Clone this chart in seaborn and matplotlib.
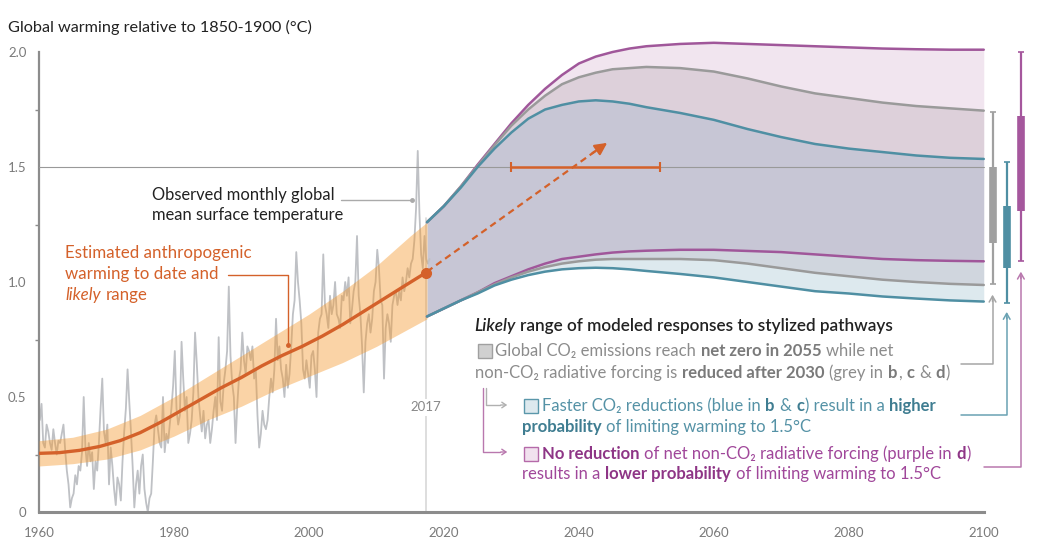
import numpy as np
import pandas as pd
import matplotlib
matplotlib.use("Agg")
import matplotlib.pyplot as plt
import seaborn as sns
from matplotlib.patches import Rectangle, FancyArrowPatch

# ---------------- data ----------------
obs_start = 1960
obs_quarterly = [
    0.40, 0.47, 0.30, 0.28, 0.38, 0.35, 0.30, 0.27, 0.36, 0.30, 0.25, 0.31,
    0.30, 0.34, 0.38, 0.27, 0.18, 0.12, 0.02, 0.06, 0.08, 0.16, 0.12, 0.20,
    0.18, 0.26, 0.50, 0.28, 0.20, 0.30, 0.22, 0.26, 0.10, 0.22, 0.18, 0.30,
    0.45, 0.58, 0.35, 0.30, 0.38, 0.12, 0.28, 0.20, 0.10, 0.03, 0.15, 0.12,
    0.05, 0.22, 0.35, 0.45, 0.62, 0.48, 0.35, 0.20, 0.02, 0.12, 0.18, 0.08,
    0.20, 0.25, 0.10, 0.04, 0.00, 0.06, 0.08, 0.22, 0.38, 0.42, 0.36, 0.30,
    0.28, 0.50, 0.26, 0.34, 0.30, 0.38, 0.45, 0.55, 0.70, 0.45, 0.38, 0.42,
    0.74, 0.58, 0.44, 0.50, 0.30, 0.34, 0.40, 0.52, 0.78, 0.65, 0.50, 0.42,
    0.35, 0.44, 0.32, 0.38, 0.40, 0.30, 0.36, 0.44, 0.50, 0.40, 0.76, 0.48,
    0.44, 0.56, 0.62, 0.70, 0.98, 0.68, 0.56, 0.50, 0.30, 0.46, 0.58, 0.62,
    0.78, 0.66, 0.60, 0.72, 0.70, 0.66, 0.72, 0.58, 0.62, 0.42, 0.28, 0.34,
    0.44, 0.38, 0.36, 0.40, 0.50, 0.58, 0.52, 0.62, 0.84, 0.66, 0.72, 0.62,
    0.58, 0.50, 0.64, 0.54, 0.60, 0.72, 0.86, 0.92, 1.13, 1.00, 0.92, 0.82,
    0.62, 0.58, 0.66, 0.60, 0.54, 0.68, 0.70, 0.62, 0.50, 0.78, 0.84, 0.86,
    1.12, 0.90, 0.86, 0.80, 0.94, 0.86, 0.90, 1.00, 0.86, 0.84, 0.80, 0.94,
    0.92, 1.00, 0.94, 1.02, 0.82, 0.88, 0.96, 1.00, 1.20, 0.94, 0.86, 0.72,
    0.52, 0.74, 0.82, 0.86, 0.78, 0.84, 0.96, 1.00, 1.14, 1.06, 0.92, 0.90,
    0.58, 0.80, 0.86, 0.82, 0.74, 0.90, 0.94, 0.96, 0.90, 0.96, 0.92, 1.02,
    0.96, 1.00, 1.06, 1.02, 1.08, 1.10, 1.18, 1.32, 1.57, 1.30, 1.12, 1.06,
    1.20, 1.10, 1.08, 1.10,
]

anth_years = [1960, 1963, 1966, 1969, 1972, 1975, 1978, 1981, 1984, 1987, 1990,
              1993, 1996, 1999, 2002, 2005, 2008, 2011, 2014, 2017.3]
anth_warming = [0.255, 0.258, 0.268, 0.285, 0.31, 0.345, 0.39, 0.44, 0.49, 0.54, 0.585,
                0.635, 0.68, 0.72, 0.765, 0.815, 0.87, 0.925, 0.98, 1.04]
band_years = [1960, 1965, 1970, 1975, 1980, 1985, 1990, 1995, 2000, 2005, 2010, 2015, 2017.5]
band_low = [0.20, 0.21, 0.23, 0.27, 0.33, 0.40, 0.46, 0.53, 0.59, 0.65, 0.72, 0.80, 0.84]
band_high = [0.31, 0.325, 0.36, 0.42, 0.50, 0.59, 0.68, 0.77, 0.86, 0.96, 1.07, 1.20, 1.26]

scen_years = [2017.5, 2020, 2022.5, 2025, 2027.5, 2030, 2032.5, 2035, 2037.5, 2040,
              2042.5, 2045, 2047.5, 2050, 2055, 2060, 2065, 2070, 2075, 2080,
              2085, 2090, 2095, 2100]
blue_high = [1.26, 1.33, 1.41, 1.50, 1.58, 1.65, 1.71, 1.75, 1.77, 1.785,
             1.79, 1.785, 1.775, 1.76, 1.735, 1.705, 1.665, 1.63, 1.60, 1.58,
             1.565, 1.55, 1.54, 1.535]
grey_high = [1.26, 1.33, 1.415, 1.505, 1.595, 1.68, 1.75, 1.81, 1.86, 1.89,
             1.91, 1.925, 1.93, 1.935, 1.93, 1.915, 1.885, 1.85, 1.82, 1.80,
             1.78, 1.765, 1.755, 1.745]
purple_high = [1.26, 1.33, 1.415, 1.51, 1.60, 1.69, 1.77, 1.84, 1.90, 1.95,
               1.98, 2.00, 2.015, 2.025, 2.035, 2.04, 2.035, 2.03, 2.025, 2.02,
               2.015, 2.012, 2.01, 2.01]
blue_low = [0.85, 0.885, 0.92, 0.95, 0.985, 1.01, 1.03, 1.045, 1.055, 1.06,
            1.062, 1.06, 1.055, 1.048, 1.035, 1.02, 1.00, 0.98, 0.96, 0.95,
            0.937, 0.928, 0.92, 0.915]
grey_low = [0.85, 0.885, 0.92, 0.955, 0.99, 1.02, 1.045, 1.065, 1.08, 1.09,
            1.097, 1.10, 1.10, 1.10, 1.10, 1.095, 1.08, 1.06, 1.04, 1.025,
            1.01, 1.00, 0.992, 0.987]
purple_low = [0.85, 0.885, 0.92, 0.955, 0.995, 1.025, 1.055, 1.08, 1.10, 1.11,
              1.12, 1.128, 1.133, 1.136, 1.14, 1.14, 1.135, 1.13, 1.12, 1.11,
              1.10, 1.095, 1.092, 1.09]

# 2100 likely ranges (whisker) and central ranges (box)
bar_names = ["grey", "blue", "purple"]
bar_x = [2101.3, 2103.4, 2105.5]
bar_whisk_lo = [0.99, 0.91, 1.09]
bar_whisk_hi = [1.74, 1.52, 2.00]
bar_box_lo = [1.17, 1.06, 1.31]
bar_box_hi = [1.50, 1.33, 1.72]

range_15_start, range_15_end = 2030, 2052
yticks = [0, 0.5, 1.0, 1.5, 2.0]
ytick_labels = ["0", "0.5", "1.0", "1.5", "2.0"]
xticks = [1960, 1980, 2000, 2020, 2040, 2060, 2080, 2100]

# ---------------- style ----------------
C_ORANGE = "#d4612a"
C_BAND = "#f5982b"
C_OBS = "#bfc1c5"
C_BLUE = "#4f8fa3"
C_GREY = "#9a9a9a"
C_PURPLE = "#a0579a"
C_AX = "#8c8c8c"

sns.set_theme(style="white")
plt.rcParams["font.family"] = ["Lato", "DejaVu Sans"]

W, H = 1054, 553
fig = plt.figure(figsize=(W / 100, H / 100), dpi=100)
ax = fig.add_axes([39 / W, 41 / H, (1031 - 39) / W, (512 - 38.2) / H])
ax.set_xlim(1960, 2107)
ax.set_ylim(0, 2.06)

# observed monthly GMST (grey)
obs = pd.DataFrame({"year": obs_start + (np.arange(len(obs_quarterly)) + 0.5) / 4,
                    "temp": obs_quarterly})
sns.lineplot(data=obs, x="year", y="temp", ax=ax, color=C_OBS, lw=1.3, zorder=2)

# anthropogenic warming band and line
ax.fill_between(band_years, band_low, band_high, color=C_BAND, alpha=0.42, lw=0, zorder=3)
anth = pd.DataFrame({"year": anth_years, "w": anth_warming})
sns.lineplot(data=anth, x="year", y="w", ax=ax, color=C_ORANGE, lw=2.4, zorder=5)
ax.plot([anth_years[-1]], [anth_warming[-1]], "o", color=C_ORANGE, ms=7, zorder=6)

# scenario bands
ax.fill_between(scen_years, grey_high, purple_high, color="#f1e5ef", lw=0, zorder=1)
ax.fill_between(scen_years, blue_high, grey_high, color="#ddd0da", lw=0, zorder=1)
ax.fill_between(scen_years, purple_low, blue_high, color="#c7c6d5", lw=0, zorder=1)
ax.fill_between(scen_years, grey_low, purple_low, color="#d0d6de", lw=0, zorder=1)
ax.fill_between(scen_years, blue_low, grey_low, color="#dde9ee", lw=0, zorder=1)
for ys, c in [(purple_high, C_PURPLE), (grey_high, C_GREY), (blue_high, C_BLUE),
              (purple_low, C_PURPLE), (grey_low, C_GREY), (blue_low, C_BLUE)]:
    sns.lineplot(x=scen_years, y=ys, ax=ax, color=c, lw=1.8, zorder=4)

# 1.5 line and 2017 marker line
ax.plot([1960, 2100], [1.5, 1.5], color="#999999", lw=0.8, zorder=3.5)
ax.plot([2017.35, 2017.35], [0, 1.28], color="#d8d8d8", lw=1.2, zorder=1.5)
ax.text(2017.35, 0.455, "2017", ha="center", va="center", fontsize=9.5, color="#888888",
        bbox=dict(facecolor="white", edgecolor="none", pad=2), zorder=2.5)

# dashed projection arrow
ax.plot([2017.5, 2042.5], [1.045, 1.57], ls=(0, (3, 2)), color=C_ORANGE, lw=1.6, zorder=6)
ax.annotate("", xy=(2044.2, 1.605), xytext=(2042.0, 1.56),
            arrowprops=dict(arrowstyle="-|>,head_length=0.6,head_width=0.3",
                            color=C_ORANGE, lw=1.6, shrinkA=0, shrinkB=0), zorder=6)

# range when 1.5 is reached
ax.errorbar([(range_15_start + range_15_end) / 2], [1.5],
            xerr=[[(range_15_end - range_15_start) / 2]], color=C_ORANGE, lw=1.8,
            capsize=3.5, capthick=1.5, zorder=6)

# 2100 bars
bar_cols = ["#a0a0a0", "#4f8fa3", "#a5579d"]
for x, wl, wh, bl, bh, c in zip(bar_x, bar_whisk_lo, bar_whisk_hi, bar_box_lo, bar_box_hi, bar_cols):
    ax.errorbar([x], [(wl + wh) / 2], yerr=[[(wh - wl) / 2]], color=c, lw=1.6,
                capsize=2.5, capthick=1.2, zorder=6)
    ax.plot([x, x], [bl, bh], color=c, lw=5.5, solid_capstyle="butt", zorder=7)

# connectors from bars to legend text
conn_cols = ["#a6a6a6", "#6aa2b3", "#b978ae"]
conn_tip = [0.945, 0.87, 1.045]
conn_y = [0.645, 0.42, 0.195]
conn_left = [2096.7, 2096.7, 2100.0]
for x, t, yy, xl, c in zip(bar_x, conn_tip, conn_y, conn_left, conn_cols):
    ax.plot([xl, x, x], [yy, yy, t - 0.02], color=c, lw=1.1, zorder=6)
    ax.annotate("", xy=(x, t), xytext=(x, t - 0.03),
                arrowprops=dict(arrowstyle="->,head_length=0.35,head_width=0.2",
                                color=c, lw=1.1, shrinkA=0, shrinkB=0), zorder=6)

# axes styling
for s in ["top", "right"]:
    ax.spines[s].set_visible(False)
ax.spines["left"].set_bounds(0, 2.0)
ax.spines["bottom"].set_bounds(1960, 2100)
ax.spines["left"].set_color(C_AX)
ax.spines["bottom"].set_color(C_AX)
ax.spines["left"].set_linewidth(1.6)
ax.spines["bottom"].set_linewidth(2.2)
ax.set_yticks(yticks)
ax.set_yticklabels(ytick_labels)
ax.set_yticks([0.25, 0.75, 1.25, 1.75], minor=True)
ax.set_xticks(xticks)
ax.set_xticklabels([str(v) for v in xticks])
ax.tick_params(axis="both", which="major", length=5, width=1.2, color=C_AX,
               labelcolor="#7a7a7a", labelsize=9.5, pad=4, direction="out")
ax.tick_params(axis="y", which="minor", length=3, width=1.0, color=C_AX, left=True)
ax.tick_params(axis="x", pad=6)
ax.set_xlabel("")
ax.set_ylabel("")
ax.grid(False)

# ---------------- text ----------------
def fx(x):
    return x / W

def fy(y):
    return 1 - y / H

renderer = fig.canvas.get_renderer()

def text_width(s, **kw):
    t = fig.text(0, 0, s, **kw)
    w = t.get_window_extent(renderer).width
    t.remove()
    return w

def rich(x, y, parts, size=12.0):
    for txt, color, weight, style in parts:
        kw = dict(fontsize=size, fontweight=weight, fontstyle=style)
        sp = text_width("a a", **kw) - text_width("aa", **kw)
        if txt.startswith(" "):
            x += sp
        core = txt.strip()
        t = fig.text(fx(x), fy(y), core, color=color, va="center", ha="left", **kw)
        x = t.get_window_extent(renderer).x1 + 0.5
        if txt.endswith(" ") and len(core) > 0:
            x += sp
    return x

fig.text(fx(8), fy(27), "Global warming relative to 1850-1900 (°C)", fontsize=11.7,
         color="#222222", va="center", ha="left")

fig.text(fx(152), fy(195), "Observed monthly global", fontsize=11.9, color="#222222",
         va="center", ha="left")
fig.text(fx(152), fy(215), "mean surface temperature", fontsize=11.9, color="#222222",
         va="center", ha="left")
ax.plot([2004.8, 2015.3], [1.355, 1.355], color="#aaaaaa", lw=1.0, zorder=7)
ax.plot([2015.3], [1.355], "o", color="#aaaaaa", ms=2.5, zorder=7)

rich(65, 253, [("Estimated anthropogenic", C_ORANGE, "normal", "normal")], size=12.2)
rich(65, 274, [("warming to date and", C_ORANGE, "normal", "normal")], size=12.2)
rich(65, 295, [("likely", C_ORANGE, "normal", "italic"), (" range", C_ORANGE, "normal", "normal")], size=12.2)
ax.plot([1988.0, 1996.9, 1996.9], [1.03, 1.03, 0.725], color=C_ORANGE, lw=1.0, zorder=7)
ax.plot([1996.9], [0.725], "o", color=C_ORANGE, ms=2.5, zorder=7)

# legend
G, GB = "#8c8c8c", "#7a7a7a"
B, BB = "#5592a6", "#3f7d91"
P, PB = "#a0479a", "#8e3586"
rich(474, 326, [("Likely", "#222222", "semibold", "italic"),
                (" range of modeled responses to stylized pathways", "#222222", "semibold", "normal")],
     size=12.3)
fig.patches.append(Rectangle((fx(478), fy(358)), 14 / W, 14 / H, transform=fig.transFigure,
                             facecolor="#d0d0d0", edgecolor="#a0a0a0", lw=1))
rich(495, 351, [("Global CO₂ emissions reach ", G, "normal", "normal"),
                ("net zero in 2055", GB, "bold", "normal"),
                (" while net", G, "normal", "normal")])
rich(475, 373, [("non-CO₂ radiative forcing is ", G, "normal", "normal"),
                ("reduced after 2030", GB, "bold", "normal"),
                (" (grey in ", G, "normal", "normal"), ("b", GB, "bold", "normal"),
                (", ", G, "normal", "normal"), ("c", GB, "bold", "normal"),
                (" & ", G, "normal", "normal"), ("d", GB, "bold", "normal"),
                (")", G, "normal", "normal")])

fig.add_artist(plt.Line2D([fx(486), fx(486), fx(500)], [fy(388), fy(405), fy(405)],
                          color="#b0b0b0", lw=1.0, transform=fig.transFigure))
fig.add_artist(plt.Line2D([fx(483), fx(483), fx(500)], [fy(388), fy(452), fy(452)],
                          color="#b978ae", lw=1.0, transform=fig.transFigure))
for yy, c in [(405, "#b0b0b0"), (452, "#b978ae")]:
    fig.add_artist(FancyArrowPatch(
        (fx(498), fy(yy)), (fx(510), fy(yy)), transform=fig.transFigure,
        arrowstyle="->,head_length=3,head_width=2", color=c, lw=1.0))

fig.patches.append(Rectangle((fx(524), fy(413)), 14 / W, 14 / H, transform=fig.transFigure,
                             facecolor="#dde9ee", edgecolor="#5a97aa", lw=1))
rich(542, 406, [("Faster CO₂ reductions (blue in ", B, "normal", "normal"),
                ("b", BB, "bold", "normal"), (" & ", B, "normal", "normal"),
                ("c", BB, "bold", "normal"), (") result in a ", B, "normal", "normal"),
                ("higher", BB, "bold", "normal")])
rich(522, 427, [("probability", BB, "bold", "normal"),
                (" of limiting warming to 1.5°C", B, "normal", "normal")])

fig.patches.append(Rectangle((fx(524), fy(461)), 14 / W, 14 / H, transform=fig.transFigure,
                             facecolor="#f1e1ee", edgecolor="#b56aa9", lw=1))
rich(542, 454, [("No reduction", PB, "bold", "normal"),
                (" of net non-CO₂ radiative forcing (purple in ", P, "normal", "normal"),
                ("d", PB, "bold", "normal"), (")", P, "normal", "normal")])
rich(522, 474, [("results in a ", P, "normal", "normal"),
                ("lower probability", PB, "bold", "normal"),
                (" of limiting warming to 1.5°C", P, "normal", "normal")])

fig.savefig("out.png", dpi=100)
